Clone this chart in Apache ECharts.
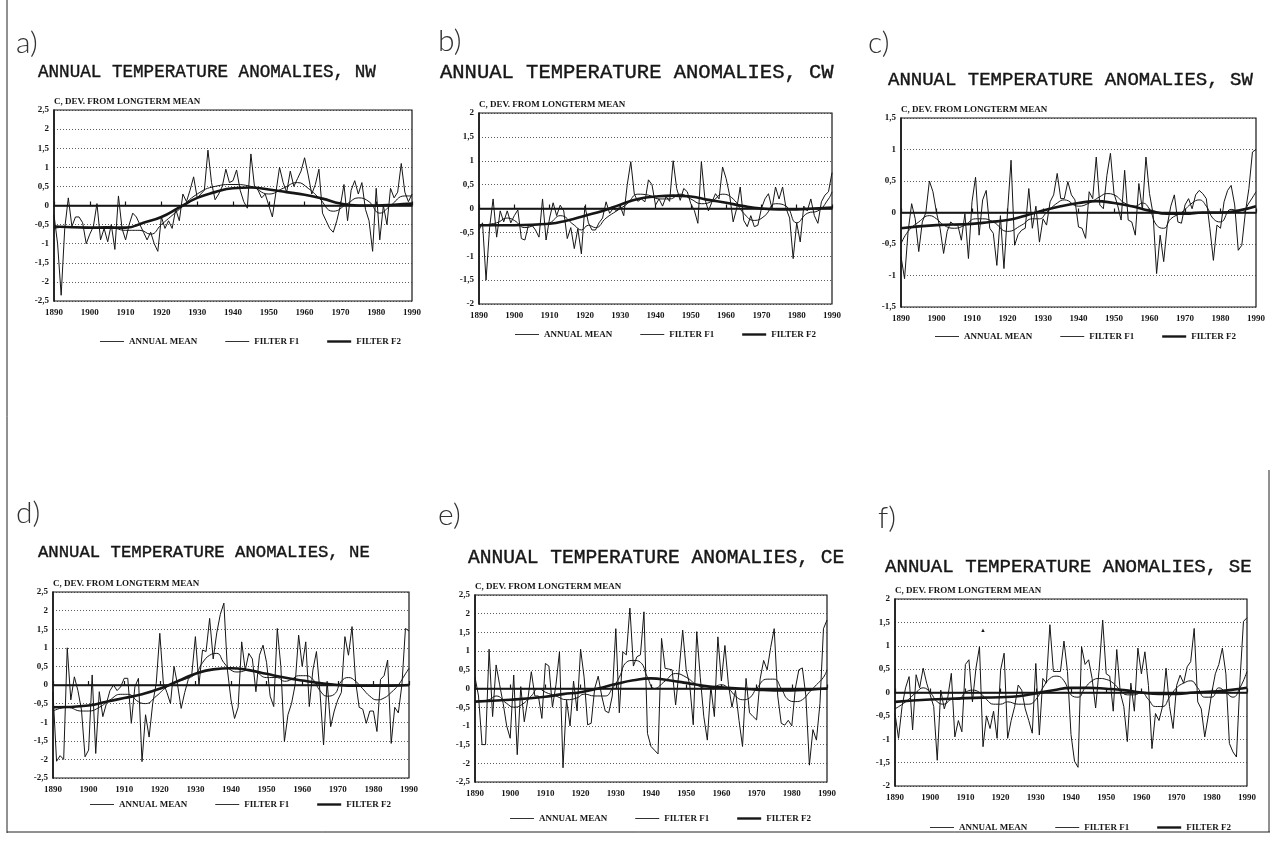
<!DOCTYPE html>
<html>
<head>
<meta charset="utf-8">
<script src="https://cdn.jsdelivr.net/npm/echarts@6/dist/echarts.min.js"></script>
<style>
  html, body { margin: 0; padding: 0; background: #fff; }
  #main { width: 1285px; height: 844px; }
</style>
</head>
<body>
<div id="main"></div>
<script>
// annual means, one value per year from 1890 to 1990
var firstYear = 1890;

var nwMean = [-0.25, -1.0, -2.35, -0.6, 0.2, -0.55, -0.3, -0.3, -0.45, -1.0,
  -0.75, -0.55, 0.05, -0.9, -0.6, -0.95, -0.5, -1.15, 0.25, -0.6,
  -0.9, -0.5, -0.2, -0.3, -0.5, -0.7, -0.9, -0.7, -1.0, -1.2,
  -0.3, -0.6, -0.4, -0.6, -0.1, -0.4, 0.3, 0.1, 0.4, 0.75,
  0.2, 0.3, 0.4, 1.45, 0.6, 0.15, 0.3, 0.5, 0.95, 0.6,
  0.65, 0.93, 0.4, 0.1, -0.07, 1.35, 0.5, 0.4, 0.2, 0.3,
  0.0, -0.3, 0.35, 1.0, 0.6, 0.35, 0.9, 0.5, 0.7, 0.9,
  1.25, 0.8, 0.3, 0.55, 0.95, -0.2, -0.4, -0.6, -0.7, -0.4,
  0.0, 0.55, -0.4, 0.4, 0.65, 0.3, 0.6, -0.1, -0.4, -1.2,
  0.45, -0.9, 0.0, -0.5, 0.45, 0.2, 0.35, 1.1, 0.35, 0.1, 0.3];
var nwF1 = [[1890, -0.6], [1895, -0.55], [1900, -0.6], [1905, -0.55], [1910, -0.65], [1914, -0.65],
  [1917, -0.75], [1920, -0.5], [1925, -0.1], [1930, 0.3], [1935, 0.5], [1940, 0.55],
  [1945, 0.5], [1950, 0.3], [1954, 0.45], [1958, 0.6], [1961, 0.45], [1964, 0.2],
  [1968, -0.15], [1972, 0.05], [1975, 0.2], [1978, 0.1], [1981, -0.2], [1984, 0.0],
  [1988, 0.25], [1990, 0.25]];
var nwF2 = [[1890, -0.55], [1900, -0.58], [1910, -0.58], [1915, -0.45], [1920, -0.3], [1925, -0.05],
  [1930, 0.2], [1935, 0.35], [1940, 0.45], [1945, 0.47], [1950, 0.42], [1955, 0.35],
  [1960, 0.28], [1965, 0.18], [1970, 0.05], [1975, 0.0], [1980, 0.0], [1985, 0.02], [1990, 0.05]];

var cwMean = [-0.45, -0.3, -1.5, -0.4, 0.2, -0.6, -0.05, -0.28, -0.05, -0.3,
  -0.15, -0.03, -0.63, -0.66, -0.35, -0.35, -0.45, -0.6, 0.2, -0.66,
  -0.2, 0.12, -0.15, 0.07, -0.05, -0.63, -0.4, -0.84, -0.42, -0.95,
  0.05, -0.3, -0.45, -0.45, -0.3, -0.2, 0.14, -0.1, 0.0, -0.05,
  0.05, -0.15, 0.5, 0.98, 0.3, 0.15, 0.2, 0.14, 0.6, 0.5,
  0.07, 0.2, 0.05, 0.25, 0.15, 1.0, 0.42, 0.17, 0.42, 0.35,
  0.1, -0.04, -0.31, 0.98, 0.2, -0.05, 0.14, 0.31, 0.2, 0.87,
  0.63, 0.28, -0.28, 0.0, 0.45, -0.25, -0.38, -0.15, -0.38, -0.35,
  0.0, 0.2, 0.31, 0.0, 0.45, 0.2, 0.45, 0.0, -0.2, -1.05,
  -0.3, -0.7, 0.05, -0.05, 0.2, -0.15, -0.31, 0.14, 0.28, 0.35, 0.75];
var cwF1 = [[1890, -0.35], [1895, -0.3], [1898, -0.2], [1900, -0.25], [1903, -0.4], [1906, -0.35],
  [1910, -0.3], [1913, -0.15], [1917, -0.35], [1919, -0.45], [1921, -0.35], [1923, -0.4],
  [1926, -0.2], [1929, -0.05], [1932, 0.1], [1935, 0.3], [1938, 0.28], [1941, 0.2],
  [1944, 0.2], [1947, 0.3], [1950, 0.2], [1953, 0.1], [1956, 0.15], [1959, 0.3],
  [1962, 0.2], [1965, -0.1], [1968, -0.25], [1971, -0.15], [1974, 0.1], [1977, 0.05],
  [1980, -0.3], [1983, -0.1], [1986, -0.05], [1989, 0.2], [1990, 0.35]];
var cwF2 = [[1890, -0.35], [1900, -0.35], [1910, -0.32], [1915, -0.25], [1920, -0.15], [1925, -0.05],
  [1930, 0.08], [1935, 0.2], [1940, 0.25], [1945, 0.27], [1950, 0.25], [1955, 0.18],
  [1960, 0.12], [1965, 0.05], [1970, 0.0], [1975, -0.02], [1980, -0.02], [1985, 0.0], [1990, 0.02]];

var swMean = [-0.7, -1.05, -0.3, 0.14, -0.1, -0.62, -0.15, 0.0, 0.5, 0.33,
  0.0, -0.25, -0.65, -0.3, -0.15, -0.2, -0.2, -0.44, -0.02, -0.73,
  0.17, 0.56, -0.36, 0.2, 0.35, -0.25, -0.33, -0.84, -0.05, -0.89,
  0.0, 0.83, -0.52, -0.35, -0.28, -0.25, 0.38, -0.25, 0.1, -0.47,
  -0.1, -0.2, 0.17, 0.28, 0.62, 0.22, 0.22, 0.49, 0.28, 0.2,
  -0.23, -0.25, -0.41, 0.33, 0.22, 0.88, 0.12, 0.06, 0.59, 0.94,
  0.3, 0.12, -0.12, 0.67, -0.12, -0.15, -0.36, 0.46, 0.04, 0.88,
  0.3, -0.02, -0.97, -0.36, -0.78, -0.2, 0.1, 0.28, -0.15, -0.17,
  0.12, 0.22, 0.06, 0.28, 0.35, 0.3, 0.22, -0.25, -0.76, -0.2,
  -0.25, 0.17, 0.35, 0.43, 0.12, -0.6, -0.52, 0.0, 0.38, 0.96, 1.0];
var swF1 = [[1890, -0.5], [1892, -0.3], [1895, -0.15], [1898, -0.05], [1900, -0.1], [1902, -0.2],
  [1905, -0.25], [1908, -0.2], [1911, -0.1], [1913, -0.1], [1916, -0.15], [1920, -0.3],
  [1924, -0.2], [1927, -0.1], [1929, -0.1], [1931, 0.0], [1934, 0.15], [1936, 0.2],
  [1940, 0.1], [1943, 0.15], [1946, 0.25], [1948, 0.3], [1950, 0.28], [1953, 0.15],
  [1956, 0.1], [1958, 0.15], [1960, 0.05], [1962, -0.2], [1964, -0.25], [1966, -0.1],
  [1969, 0.0], [1972, 0.15], [1974, 0.2], [1976, 0.1], [1978, -0.1], [1980, -0.15],
  [1983, 0.05], [1986, 0.0], [1988, 0.15], [1990, 0.33]];
var swF2 = [[1890, -0.25], [1900, -0.2], [1910, -0.18], [1915, -0.15], [1920, -0.12], [1925, -0.05],
  [1930, 0.03], [1935, 0.1], [1940, 0.15], [1945, 0.18], [1950, 0.15], [1955, 0.1],
  [1960, 0.03], [1965, -0.02], [1970, -0.02], [1975, 0.0], [1980, 0.0], [1985, 0.03], [1990, 0.1]];

var neMean = [-0.2, -2.05, -1.9, -2.0, 1.0, -0.4, 0.22, -0.15, -0.67, -1.93,
  -1.75, 0.27, -1.84, -0.18, -0.85, -0.5, -0.15, 0.0, -0.15, -0.05,
  0.18, 0.18, -1.03, -0.05, 0.18, -2.06, -0.8, -1.4, -0.5, 0.05,
  1.39, 0.05, -0.2, -0.5, 0.5, 0.0, -0.63, -0.2, 0.15, 0.3,
  1.3, 0.0, 0.94, 0.9, 1.79, 0.7, 1.4, 1.9, 2.2, 0.4,
  -0.4, -0.9, -0.6, 1.16, 0.4, 0.85, 0.7, -0.18, 0.8, 1.07,
  0.6, -0.3, -0.58, 1.52, 0.5, -1.52, -0.8, -0.5, 0.0, 1.34,
  0.5, 1.16, -0.58, 0.4, 0.9, -0.2, -1.61, 0.1, -1.12, -0.7,
  -0.4, -0.2, 1.3, 0.8, 1.57, 0.1, -0.6, -0.65, -1.03, -0.7,
  -0.7, -1.25, 0.15, 0.25, 0.67, -1.57, -0.6, -0.75, 0.0, 1.52, 1.45];
var neF1 = [[1890, -0.7], [1894, -0.6], [1898, -0.7], [1900, -0.7], [1903, -0.6], [1906, -0.4],
  [1909, -0.25], [1911, -0.25], [1914, -0.45], [1916, -0.5], [1919, -0.3], [1922, -0.05],
  [1925, 0.1], [1927, 0.15], [1930, 0.3], [1932, 0.6], [1934, 0.8], [1936, 0.85],
  [1938, 0.6], [1940, 0.4], [1942, 0.35], [1945, 0.4], [1947, 0.35], [1950, 0.2],
  [1953, 0.2], [1955, 0.1], [1957, 0.15], [1959, 0.25], [1961, 0.25], [1963, 0.15],
  [1965, -0.15], [1967, -0.3], [1969, -0.25], [1971, 0.1], [1973, 0.2], [1975, 0.1],
  [1977, -0.1], [1979, -0.3], [1981, -0.4], [1983, -0.35], [1985, -0.2], [1987, 0.0],
  [1989, 0.3], [1990, 0.45]];
var neF2 = [[1890, -0.6], [1900, -0.55], [1905, -0.45], [1910, -0.35], [1915, -0.25], [1920, -0.1],
  [1925, 0.1], [1930, 0.3], [1935, 0.42], [1940, 0.45], [1945, 0.4], [1950, 0.3],
  [1955, 0.2], [1960, 0.12], [1965, 0.05], [1970, 0.0], [1975, -0.02], [1980, -0.02],
  [1985, -0.02], [1990, 0.0]];

var ceMean = [0.3, -0.2, -1.5, -1.5, 1.05, -0.75, 0.63, 0.1, -0.4, -1.0,
  -1.33, 0.36, -1.77, 0.05, -0.89, -0.3, 0.45, -0.2, -0.2, -0.8,
  0.67, 0.6, -0.5, 0.1, 0.98, -2.12, -0.3, -1.0, 0.2, -0.6,
  1.05, 0.3, -0.97, -0.93, 0.0, 0.33, -0.2, -0.6, -0.65, -0.2,
  1.6, -0.65, 0.98, 0.9, 2.15, 0.6, 0.85, 0.9, 2.05, -1.2,
  -1.55, -1.65, -1.75, 1.34, 0.54, 0.52, 0.5, -0.44, 0.5, 1.56,
  0.5, 0.1, -0.97, 1.52, 0.3, -0.75, -1.38, 0.05, -0.75, 1.38,
  0.2, 1.15, 0.1, -0.5, -0.05, -0.85, -1.55, 0.27, -0.65, -0.75,
  -0.84, 0.25, 0.75, 0.5, 1.1, 1.6, -0.2, -0.93, -0.98, -0.85,
  -1.0, 0.0, 0.5, 0.55, -0.2, -2.05, -1.1, -1.38, -0.4, 1.6, 1.83];
var ceF1 = [[1890, -0.35], [1894, -0.3], [1896, -0.2], [1899, -0.4], [1901, -0.5], [1903, -0.45],
  [1906, -0.2], [1908, 0.0], [1910, -0.1], [1913, -0.2], [1916, -0.3], [1919, -0.25],
  [1921, -0.15], [1924, -0.2], [1927, -0.2], [1929, 0.0], [1931, 0.3], [1933, 0.7],
  [1935, 0.75], [1937, 0.7], [1939, 0.3], [1941, 0.0], [1944, 0.2], [1947, 0.4],
  [1950, 0.3], [1953, 0.1], [1956, 0.0], [1958, 0.05], [1960, 0.1], [1962, 0.0],
  [1964, -0.2], [1966, -0.3], [1968, -0.25], [1970, 0.0], [1973, 0.25], [1975, 0.25],
  [1977, 0.0], [1979, -0.3], [1981, -0.35], [1983, -0.3], [1985, -0.1], [1987, 0.1],
  [1989, 0.3], [1990, 0.5]];
var ceF2 = [[1890, -0.35], [1900, -0.3], [1910, -0.22], [1915, -0.15], [1920, -0.1], [1925, 0.0],
  [1930, 0.12], [1935, 0.22], [1940, 0.27], [1945, 0.22], [1950, 0.15], [1955, 0.07],
  [1960, 0.03], [1965, 0.0], [1970, -0.03], [1975, -0.05], [1980, -0.05], [1985, -0.03], [1990, 0.0]];

var seMean = [-0.45, -0.98, -0.3, 0.1, 0.34, -0.8, 0.38, 0.1, 0.52, 0.2,
  -0.05, -0.3, -1.45, 0.05, -0.35, -0.1, 0.41, -0.95, -0.6, -0.84,
  0.6, 0.7, -0.2, 0.52, 0.98, -1.16, -0.5, -0.77, -0.4, -0.98,
  0.48, 0.84, -0.98, -0.6, -0.3, 0.16, 0.05, -0.35, -0.6, -0.87,
  0.62, -0.91, 0.3, 0.2, 1.45, 0.45, 0.45, 0.45, 1.1, 0.45,
  -0.9, -1.47, -1.6, 0.98, 0.6, 0.7, 0.3, -0.33, 0.5, 1.55,
  0.4, 0.35, -0.4, 0.92, 0.0, -0.3, -1.05, 0.2, -0.4, 0.95,
  0.4, 0.87, 0.15, -1.2, -0.45, -0.6, -0.3, 0.52, -0.3, -0.77,
  0.15, 0.37, 0.2, 0.55, 0.66, 1.37, -0.2, -0.35, -0.95, -0.5,
  0.0, 0.4, 0.6, 0.95, 0.4, -1.09, -1.27, -1.38, 0.25, 1.52, 1.6];
var seF1 = [[1890, -0.35], [1893, -0.2], [1896, 0.0], [1898, 0.1], [1900, 0.0], [1902, -0.2],
  [1904, -0.25], [1906, -0.15], [1908, -0.15], [1910, 0.0], [1912, 0.05], [1914, 0.0],
  [1916, -0.15], [1918, -0.25], [1920, -0.25], [1922, -0.2], [1925, -0.25], [1928, -0.25],
  [1930, -0.15], [1932, 0.1], [1934, 0.3], [1936, 0.35], [1938, 0.25], [1940, -0.05],
  [1942, -0.1], [1944, 0.1], [1946, 0.25], [1948, 0.3], [1950, 0.28], [1952, 0.2],
  [1954, 0.05], [1956, -0.05], [1958, -0.05], [1960, 0.0], [1962, -0.15], [1964, -0.3],
  [1966, -0.3], [1968, -0.1], [1970, 0.1], [1972, 0.2], [1974, 0.25], [1976, 0.1],
  [1978, -0.1], [1980, -0.1], [1982, 0.1], [1984, 0.0], [1986, -0.1], [1988, 0.1], [1990, 0.45]];
var seF2 = [[1890, -0.2], [1900, -0.15], [1910, -0.12], [1920, -0.1], [1925, -0.08], [1930, -0.02],
  [1935, 0.05], [1940, 0.1], [1945, 0.1], [1950, 0.08], [1955, 0.05], [1960, 0.0],
  [1965, -0.03], [1970, -0.03], [1975, 0.0], [1980, 0.02], [1985, 0.05], [1990, 0.1]];

var legendNames = ["ANNUAL MEAN", "FILTER F1", "FILTER F2"];
var yName = "C, DEV. FROM LONGTERM MEAN";

// layout of the six panels
var panels = [
  { tag: "a)", title: "ANNUAL TEMPERATURE ANOMALIES, NW", mean: nwMean, f1: nwF1, f2: nwF2,
    yMin: -2.5, yMax: 2.5, grid: [54, 110, 358, 191], tagPos: [16, 28], titlePos: [38, 63, 17.6], legendPos: [100, 337] },
  { tag: "b)", title: "ANNUAL TEMPERATURE ANOMALIES, CW", mean: cwMean, f1: cwF1, f2: cwF2,
    yMin: -2, yMax: 2, grid: [479, 113, 353, 191], tagPos: [438, 26], titlePos: [440, 62, 20.5], legendPos: [515, 330] },
  { tag: "c)", title: "ANNUAL TEMPERATURE ANOMALIES, SW", mean: swMean, f1: swF1, f2: swF2,
    yMin: -1.5, yMax: 1.5, grid: [901, 118, 355, 189], tagPos: [868, 28], titlePos: [888, 70, 19], legendPos: [935, 332] },
  { tag: "d)", title: "ANNUAL TEMPERATURE ANOMALIES, NE", mean: neMean, f1: neF1, f2: neF2,
    yMin: -2.5, yMax: 2.5, grid: [53, 592, 356, 186], tagPos: [16, 498], titlePos: [38, 544, 17.3], legendPos: [90, 800] },
  { tag: "e)", title: "ANNUAL TEMPERATURE ANOMALIES, CE", mean: ceMean, f1: ceF1, f2: ceF2,
    yMin: -2.5, yMax: 2.5, grid: [475, 595, 352, 187], tagPos: [438, 500], titlePos: [468, 548, 19.6], legendPos: [510, 814] },
  { tag: "f)", title: "ANNUAL TEMPERATURE ANOMALIES, SE", mean: seMean, f1: seF1, f2: seF2,
    yMin: -2, yMax: 2, grid: [895, 599, 352, 187], tagPos: [878, 503], titlePos: [885, 557, 19.1], legendPos: [930, 823] }
];

var ink = "#161616";
var smallFont = { fontFamily: "Liberation Serif", fontWeight: "bold", fontSize: 9, color: ink };
// legend keys: plain strokes, thin for the raw series and the first filter, heavy for the second
var legendData = [
  { name: legendNames[0], icon: "path://M0,0H30V1.1H0Z" },
  { name: legendNames[1], icon: "path://M0,0H30V1.1H0Z" },
  { name: legendNames[2], icon: "path://M0,0H30V3H0Z" }
];

var option = {
  animation: false,
  backgroundColor: "#fff",
  color: [ink, ink, ink],
  title: [],
  legend: [],
  grid: [],
  xAxis: [],
  yAxis: [],
  series: [],
  graphic: [
    { type: "line", shape: { x1: 7, y1: 0, x2: 7, y2: 833 }, style: { stroke: "#222", lineWidth: 1 } },
    { type: "line", shape: { x1: 7, y1: 832, x2: 1270, y2: 832 }, style: { stroke: "#222", lineWidth: 1 } },
    { type: "line", shape: { x1: 1269, y1: 470, x2: 1269, y2: 832 }, style: { stroke: "#222", lineWidth: 1 } },
    { type: "text", left: 980, top: 627, style: { text: "\u25B2", fontSize: 6, fill: ink } }
  ]
};

panels.forEach(function (p, i) {
  option.title.push({
    text: p.tag, left: p.tagPos[0], top: p.tagPos[1], padding: 0,
    textStyle: { fontFamily: "Lato", fontWeight: 300, fontSize: 30, color: "#333" }
  });
  option.title.push({
    text: p.title, left: p.titlePos[0], top: p.titlePos[1], padding: 0,
    textStyle: { fontFamily: "Liberation Mono", fontWeight: "normal", fontSize: p.titlePos[2], color: ink,
      textBorderColor: ink, textBorderWidth: 0.4 }
  });
  option.legend.push({
    left: p.legendPos[0], top: p.legendPos[1], padding: 0,
    itemWidth: 24, itemHeight: 8, itemGap: 28, selectedMode: false,
    data: legendData,
    itemStyle: { color: ink, borderWidth: 0 },
    textStyle: smallFont
  });
  option.grid.push({
    left: p.grid[0], top: p.grid[1], width: p.grid[2], height: p.grid[3],
    show: true, borderColor: ink, borderWidth: 1.2, backgroundColor: "#fff"
  });
  option.xAxis.push({
    gridIndex: i, type: "value", min: 1890, max: 1990, interval: 10,
    axisLine: { show: true, lineStyle: { color: ink, width: 1.5 } },
    axisTick: { show: true, inside: true, length: 4, lineStyle: { color: ink, width: 1.2 } },
    axisLabel: Object.assign({
      margin: 7,
      formatter: function (v) { return String(v); }
    }, smallFont),
    splitLine: { show: false }
  });
  option.yAxis.push({
    gridIndex: i, type: "value", min: p.yMin, max: p.yMax, interval: 0.5,
    name: yName, nameLocation: "end", nameGap: 4,
    nameTextStyle: Object.assign({ align: "left", verticalAlign: "bottom", padding: 0 }, smallFont),
    axisLine: { show: true, lineStyle: { color: ink, width: 1.6 } },
    axisTick: { show: false },
    axisLabel: Object.assign({
      margin: 5,
      formatter: function (v) { return String(v).replace(".", ","); }
    }, smallFont),
    splitLine: { show: true, lineStyle: { type: [1, 2], color: "#333", width: 0.8 } }
  });

  var meanData = p.mean.map(function (v, k) { return [firstYear + k, v]; });

  option.series.push({
    name: legendNames[0], type: "line", xAxisIndex: i, yAxisIndex: i,
    data: meanData, symbol: "none", itemStyle: { color: ink }, lineStyle: { color: ink, width: 1 },
    markLine: {
      silent: true, symbol: ["none", "none"], label: { show: false },
      lineStyle: { type: "solid", color: ink, width: 1.4 },
      data: [{ yAxis: 0 }]
    }
  });
  option.series.push({
    name: legendNames[1], type: "line", xAxisIndex: i, yAxisIndex: i,
    data: p.f1, symbol: "none", smooth: 0.5, itemStyle: { color: ink }, lineStyle: { color: ink, width: 1 }
  });
  option.series.push({
    name: legendNames[2], type: "line", xAxisIndex: i, yAxisIndex: i,
    data: p.f2, symbol: "none", smooth: 0.5, itemStyle: { color: ink }, lineStyle: { color: ink, width: 2.6 }
  });
});

var chart = echarts.init(document.getElementById("main"), null, { renderer: "canvas" });
chart.setOption(option);
</script>
</body>
</html>
